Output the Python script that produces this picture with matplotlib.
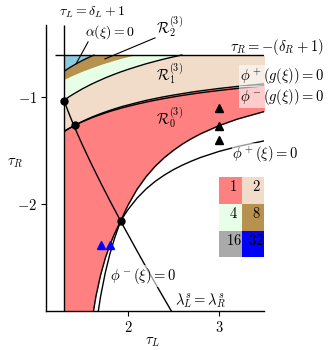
import numpy as np
import matplotlib
matplotlib.use('Agg')
import matplotlib.pyplot as plt
from matplotlib.patches import Rectangle

plt.rcParams['mathtext.fontset'] = 'cm'
plt.rcParams['font.family'] = ['DejaVu Serif']

# slice of parameter space: delta_L = 0.3, delta_R = -0.4
tau_L_border = 1.3      # tau_L = delta_L + 1
tau_R_border = -0.6     # tau_R = -(delta_R + 1)

# common tau_L samples for the boundary curves
tau_L = [1.30, 1.32, 1.35, 1.38, 1.40, 1.42, 1.45, 1.50, 1.55, 1.60, 1.65, 1.70,
         1.75, 1.80, 1.85, 1.90, 1.922, 1.95, 2.00, 2.10, 2.20, 2.30, 2.40, 2.50,
         2.60, 2.70, 2.80, 3.00, 3.20, 3.50]

# phi^+(xi) = 0  (tau_L from 1.60)
phi_p = [-3.116, -2.861, -2.667, -2.513, -2.388, -2.284, -2.196, -2.161, -2.120,
         -2.054, -1.946, -1.859, -1.788, -1.729, -1.678, -1.635, -1.597, -1.563,
         -1.507, -1.462, -1.407]
# phi^-(xi) = 0  (tau_L from 1.65)
phi_m = [-3.140, -2.867, -2.651, -2.476, -2.331, -2.209, -2.161, -2.104, -2.013,
         -1.863, -1.744, -1.646, -1.565, -1.497, -1.437, -1.386, -1.341, -1.265,
         -1.204, -1.132]
# phi^+(g(xi)) = 0 and phi^-(g(xi)) = 0
phi_p_g = [-1.320, -1.309, -1.294, -1.279, -1.269, -1.260, -1.246, -1.225, -1.205,
           -1.186, -1.169, -1.152, -1.137, -1.122, -1.108, -1.095, -1.089, -1.082,
           -1.071, -1.049, -1.028, -1.010, -0.993, -0.978, -0.964, -0.950, -0.938,
           -0.916, -0.897, -0.872]
phi_m_g = [-1.316, -1.306, -1.292, -1.278, -1.269, -1.260, -1.248, -1.228, -1.210,
           -1.192, -1.176, -1.161, -1.146, -1.132, -1.119, -1.107, -1.101, -1.095,
           -1.084, -1.063, -1.044, -1.026, -1.010, -0.995, -0.981, -0.968, -0.956,
           -0.935, -0.916, -0.891]
# phi(g^2(xi)) = 0  (tau_L from 1.30 to 2.60)
phi_g2 = [-1.025, -1.013, -0.996, -0.980, -0.969, -0.959, -0.944, -0.919, -0.897,
          -0.875, -0.855, -0.836, -0.817, -0.800, -0.783, -0.767, -0.760, -0.752,
          -0.737, -0.710, -0.684, -0.661, -0.639, -0.619, -0.600]
# phi(g^3(xi)) = 0
g3_tau_L = [1.30, 1.32, 1.35, 1.38, 1.40, 1.42, 1.45, 1.50, 1.55, 1.60, 1.65, 1.70,
            1.75, 1.80, 1.85, 1.90, 1.922, 1.95, 2.00, 2.08]
phi_g3 = [-0.829, -0.821, -0.809, -0.797, -0.789, -0.782, -0.771, -0.753, -0.737,
          -0.721, -0.706, -0.691, -0.677, -0.664, -0.651, -0.639, -0.633, -0.627,
          -0.616, -0.600]
# alpha(xi) = 0
alpha_tau_L = [1.30, 1.35, 1.40, 1.45, 1.50, 1.55, 1.60, 1.633]
alpha_tau_R = [-0.754, -0.726, -0.700, -0.676, -0.653, -0.632, -0.6125, -0.600]
# lambda_L^s = lambda_R^s
lam_tau_L = [1.30, 1.35, 1.40, 1.45, 1.50, 1.60, 1.70, 1.80, 1.922, 2.00, 2.10,
             2.20, 2.30, 2.40, 2.50]
lam_tau_R = [-1.033, -1.146, -1.251, -1.350, -1.446, -1.627, -1.800, -1.966, -2.163,
             -2.285, -2.440, -2.593, -2.743, -2.891, -3.038]

# marked parameter points
dots = [(1.30, -1.033), (1.42, -1.260), (1.922, -2.161)]
black_tri = [(3.0, -1.10), (3.0, -1.265), (3.0, -1.40)]
blue_tri = [(1.7, -2.388), (1.8, -2.388)]

# number of pieces of the attractor and its colour
pieces = [1, 2, 4, 8, 16, 32]
piece_colors = ['#ff8080', '#f0dcc8', '#e6ffe6', '#b8914f', '#aaaaaa', '#0000ff']
outside_color = '#8ccbe0'

X0, X1, Y0, Y1 = 1.1, 3.5, -3.0, -0.32

fig = plt.figure(figsize=(3.29, 3.5), dpi=100)
ax = fig.add_axes([46 / 329, 39.5 / 350, 218.4 / 329, 285.5 / 350])

tl = np.array(tau_L)
n = len(tl)
p = np.array(phi_p)
m = np.array(phi_m)
lo = np.full(n, -3.2)
lo[n - len(p):] = np.maximum(lo[n - len(p):], p)
lo[n - len(m):] = np.maximum(lo[n - len(m):], m)
hi = np.maximum(np.array(phi_p_g), np.array(phi_m_g))

ax.fill_between(tl, hi, tau_R_border, color=piece_colors[1], lw=0)
ax.fill_between(tl[:len(phi_g2)], phi_g2, tau_R_border, color=piece_colors[2], lw=0)
ax.fill_between(g3_tau_L, phi_g3, tau_R_border, color=piece_colors[3], lw=0)
ax.fill_between(alpha_tau_L, alpha_tau_R, tau_R_border, color=outside_color, lw=0)
ax.fill_between(tl, lo, hi, color=piece_colors[0], lw=0)

lk = dict(color='black', lw=1.0, solid_capstyle='butt')
ax.plot(tl[n - len(p):], p, **lk)
ax.plot(tl[n - len(m):], m, **lk)
ax.plot(tl, phi_p_g, **lk)
ax.plot(tl, phi_m_g, **lk)
ax.plot(tl[:len(phi_g2)], phi_g2, **lk)
ax.plot(alpha_tau_L, alpha_tau_R, **lk)
ax.plot(lam_tau_L, lam_tau_R, **lk)
ax.plot([tau_L_border, tau_L_border], [Y0, Y1], **lk)
ax.plot([1.2, X1], [tau_R_border, tau_R_border], **lk)

ax.plot(*zip(*dots), 'o', color='black', ms=5)
ax.plot(*zip(*black_tri), '^', color='black', ms=5.5, lw=0)
ax.plot(*zip(*blue_tri), '^', color='blue', ms=5.5, lw=0)

fs = 10.5
for i, (cnt, col) in enumerate(zip(pieces, piece_colors)):
    x0 = 3.0 + 0.25 * (i % 2)
    y0 = -2.0 - 0.25 * (i // 2)
    ax.add_patch(Rectangle((x0, y0), 0.25, 0.25, color=col, lw=0, zorder=2))
    ax.text(x0 + 0.16, y0 + 0.16, '$%d$' % cnt, ha='center', va='center',
            fontsize=fs, zorder=4)

box = dict(facecolor='white', alpha=0.6, edgecolor='none', pad=0.5)
ax.text(1.605, -0.200, r'$\tau_L = \delta_L + 1$', ha='center', va='center', fontsize=10, clip_on=False)
ax.text(1.80, -0.385, r'$\alpha(\xi) = 0$', ha='center', va='center', fontsize=10, clip_on=False)
ax.plot([1.562, 1.43], [-0.479, -0.685], color='black', lw=0.8)
ax.text(2.46, -0.34, r'$\mathcal{R}_2^{(3)}$', ha='center', va='center', fontsize=fs, clip_on=False)
ax.plot([2.298, 1.748], [-0.441, -0.638], color='black', lw=0.8)
ax.text(2.46, -0.78, r'$\mathcal{R}_1^{(3)}$', ha='center', va='center', fontsize=fs)
ax.text(2.46, -1.19, r'$\mathcal{R}_0^{(3)}$', ha='center', va='center', fontsize=fs)
ax.text(3.64, -0.526, r'$\tau_R = -(\delta_R + 1)$', ha='center', va='center', fontsize=fs, clip_on=False)
ax.text(3.69, -0.798, r'$\phi^+(g(\xi)) = 0$', ha='center', va='center', fontsize=fs, clip_on=False, bbox=box)
ax.text(3.69, -0.995, r'$\phi^-(g(\xi)) = 0$', ha='center', va='center', fontsize=fs, clip_on=False, bbox=box)
ax.text(3.51, -1.531, r'$\phi^+(\xi) = 0$', ha='center', va='center', fontsize=fs, clip_on=False, bbox=box)
ax.text(2.17, -2.676, r'$\phi^-(\xi) = 0$', ha='center', va='center', fontsize=fs, bbox=box)
ax.text(2.80, -2.905, r'$\lambda_L^s = \lambda_R^s$', ha='center', va='center', fontsize=fs, bbox=box)

ax.set_xlim(X0, X1)
ax.set_ylim(Y0, Y1)
ax.set_xticks([2, 3], ['$2$', '$3$'])
ax.set_yticks([-1, -2], ['$-1$', '$-2$'])
ax.tick_params(length=3.5, width=0.8, pad=3, labelsize=fs)
for s in ('top', 'right'):
    ax.spines[s].set_visible(False)
for s in ('left', 'bottom'):
    ax.spines[s].set_linewidth(1.0)
fig.text(152 / 329, 1 - 342 / 350, r'$\tau_L$', ha='center', va='center', fontsize=fs)
fig.text(15 / 329, 1 - 163 / 350, r'$\tau_R$', ha='center', va='center', fontsize=fs)

fig.savefig('out.png', dpi=100)
